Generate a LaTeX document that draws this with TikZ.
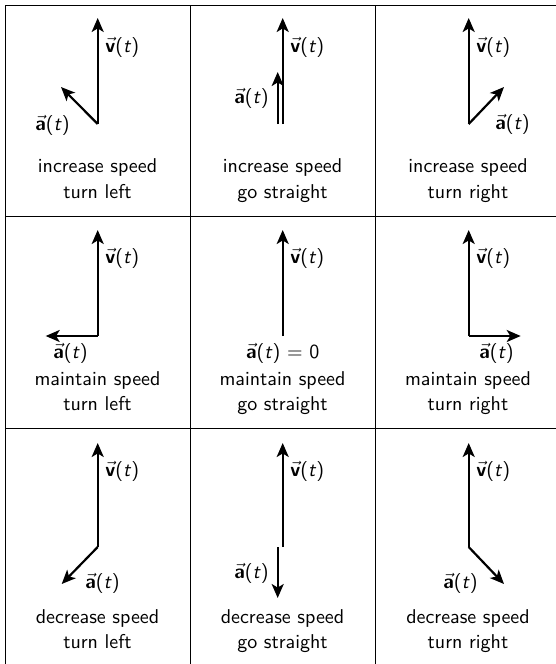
\documentclass[tikz,border=0pt]{standalone}
\usetikzlibrary{arrows.meta}
\newcommand{\va}{\(\vec{\textbf{a}}\)(\textit{t})}
\newcommand{\vv}{\(\vec{\textbf{v}}\)(\textit{t})}
\begin{document}
\begin{tikzpicture}[x=0.5pt,y=-0.5pt,
  vec/.style={line width=1.1pt,-{Stealth[length=7pt,width=6pt,inset=1.8pt]}},
  gridline/.style={line width=0.5pt},
  lbl/.style={font=\sffamily,inner sep=0pt,anchor=base west},
  lblr/.style={font=\sffamily,inner sep=0pt,anchor=base east},
  lblc/.style={font=\sffamily,inner sep=0pt,anchor=base},
  capt/.style={font=\sffamily,inner sep=0pt,anchor=base}]
\useasboundingbox (0,0) rectangle (556,664);
% grid
\coordinate (gl1) at (5,5);   \coordinate (gl2) at (5,664);
\coordinate (gc1) at (190,5); \coordinate (gc2) at (190,664);
\coordinate (gd1) at (375.5,5); \coordinate (gd2) at (375.5,664);
\coordinate (gt1) at (5,5);   \coordinate (gt2) at (556,5);
\coordinate (gr1) at (5,216.5); \coordinate (gr2) at (556,216.5);
\coordinate (gs1) at (5,428); \coordinate (gs2) at (556,428);
\draw[gridline] (gl1) -- (gl2);
\draw[gridline] (gc1) -- (gc2);
\draw[gridline] (gd1) -- (gd2);
\draw[gridline] (gt1) -- (gt2);
\draw[gridline] (gr1) -- (gr2);
\draw[gridline] (gs1) -- (gs2);

% ---------- row 1 ----------
% cell 11
\coordinate (o11) at (97.7,124); \coordinate (v11) at (97.7,18); \coordinate (a11) at (61,87);
\draw[vec] (o11) -- (v11); \draw[vec] (o11) -- (a11);
\node[lbl] (lv11) at (105,52) {\vv};
\node[lblr] (la11) at (70,130) {\va};
\node[capt] (c11a) at (97.5,172) {increase speed};
\node[capt] (c11b) at (97.5,198) {turn left};
% cell 12
\coordinate (o12) at (282.7,124); \coordinate (v12) at (282.7,18);
\coordinate (p12) at (277.7,124); \coordinate (a12) at (277.7,72);
\draw[vec] (o12) -- (v12); \draw[vec] (p12) -- (a12);
\node[lbl] (lv12) at (290,52) {\vv};
\node[lblr] (la12) at (269,103) {\va};
\node[capt] (c12a) at (282.5,172) {increase speed};
\node[capt] (c12b) at (282.5,198) {go straight};
% cell 13
\coordinate (o13) at (468.7,124); \coordinate (v13) at (468.7,18); \coordinate (a13) at (504,87);
\draw[vec] (o13) -- (v13); \draw[vec] (o13) -- (a13);
\node[lbl] (lv13) at (476,52) {\vv};
\node[lbl] (la13) at (495,129) {\va};
\node[capt] (c13a) at (468,172) {increase speed};
\node[capt] (c13b) at (468,198) {turn right};

% ---------- row 2 ----------
% cell 21
\coordinate (o21) at (97.7,336); \coordinate (v21) at (97.7,230); \coordinate (a21) at (45.7,336);
\draw[vec] (o21) -- (v21); \draw[vec] (o21) -- (a21);
\node[lbl] (lv21) at (105,263) {\vv};
\node[lbl] (la21) at (53,358) {\va};
\node[capt] (c21a) at (97.5,385) {maintain speed};
\node[capt] (c21b) at (97.5,410) {turn left};
% cell 22
\coordinate (o22) at (282.7,336); \coordinate (v22) at (282.7,230);
\draw[vec] (o22) -- (v22);
\node[lbl] (lv22) at (290,263) {\vv};
\node[lblc] (la22) at (282.7,358) {\va\ = 0};
\node[capt] (c22a) at (282.5,385) {maintain speed};
\node[capt] (c22b) at (282.5,410) {go straight};
% cell 23
\coordinate (o23) at (468.7,336); \coordinate (v23) at (468.7,230); \coordinate (a23) at (520.7,336);
\draw[vec] (o23) -- (v23); \draw[vec] (o23) -- (a23);
\node[lbl] (lv23) at (476,263) {\vv};
\node[lblr] (la23) at (514,358) {\va};
\node[capt] (c23a) at (468,385) {maintain speed};
\node[capt] (c23b) at (468,410) {turn right};

% ---------- row 3 ----------
% cell 31
\coordinate (o31) at (97.7,547); \coordinate (v31) at (97.7,443); \coordinate (a31) at (61.7,584);
\draw[vec] (o31) -- (v31); \draw[vec] (o31) -- (a31);
\node[lbl] (lv31) at (105,476) {\vv};
\node[lbl] (la31) at (85,588) {\va};
\node[capt] (c31a) at (97.5,623) {decrease speed};
\node[capt] (c31b) at (97.5,648) {turn left};
% cell 32
\coordinate (o32) at (282.7,547); \coordinate (v32) at (282.7,443);
\coordinate (p32) at (277.7,547); \coordinate (a32) at (277.7,598);
\draw[vec] (o32) -- (v32); \draw[vec] (p32) -- (a32);
\node[lbl] (lv32) at (290,476) {\vv};
\node[lblr] (la32) at (269,578) {\va};
\node[capt] (c32a) at (282.5,623) {decrease speed};
\node[capt] (c32b) at (282.5,648) {go straight};
% cell 33
\coordinate (o33) at (468.7,547); \coordinate (v33) at (468.7,443); \coordinate (a33) at (504,584);
\draw[vec] (o33) -- (v33); \draw[vec] (o33) -- (a33);
\node[lbl] (lv33) at (476,476) {\vv};
\node[lblr] (la33) at (478,588) {\va};
\node[capt] (c33a) at (468,623) {decrease speed};
\node[capt] (c33b) at (468,648) {turn right};
\end{tikzpicture}
\end{document}
